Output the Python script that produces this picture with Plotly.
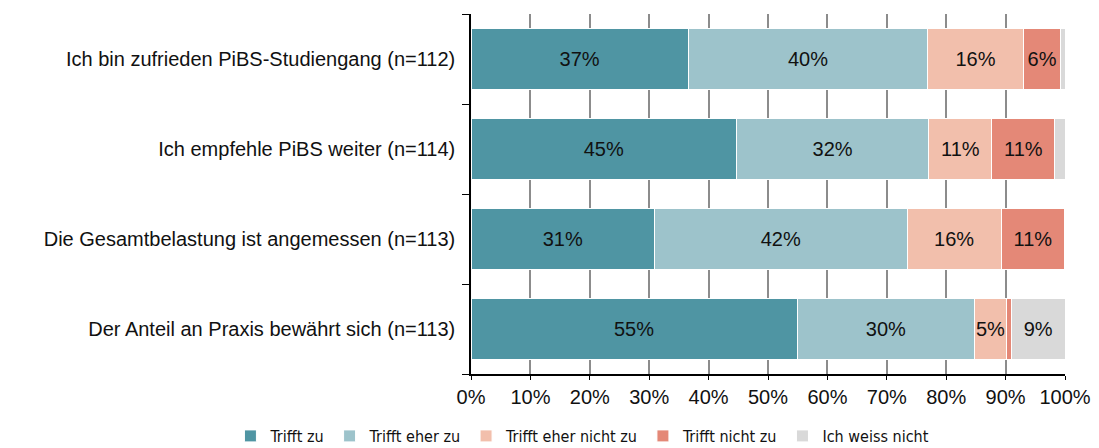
import plotly.graph_objects as go

# Survey statements (top to bottom) and response shares in percent
statements = [
    "Ich bin zufrieden PiBS-Studiengang (n=112)",
    "Ich empfehle PiBS weiter (n=114)",
    "Die Gesamtbelastung ist angemessen (n=113)",
    "Der Anteil an Praxis bewährt sich (n=113)",
]
trifft_zu = [36.6, 44.7, 30.9, 54.9]
trifft_eher_zu = [40.3, 32.4, 42.5, 29.9]
trifft_eher_nicht_zu = [16.1, 10.6, 15.9, 5.3]
trifft_nicht_zu = [6.3, 10.6, 10.6, 0.9]
weiss_nicht = [0.7, 1.7, 0.0, 9.0]

series = [
    ("Trifft zu", trifft_zu, "#4F95A3"),
    ("Trifft eher zu", trifft_eher_zu, "#9DC3CB"),
    ("Trifft eher nicht zu", trifft_eher_nicht_zu, "#F2BFAC"),
    ("Trifft nicht zu", trifft_nicht_zu, "#E48877"),
    ("Ich weiss nicht", weiss_nicht, "#D9D9D9"),
]

x_ticks = [0, 10, 20, 30, 40, 50, 60, 70, 80, 90, 100]
x_tick_labels = [f"{t}%" for t in x_ticks]

font_main = "Liberation Sans, Arial, sans-serif"

fig = go.Figure()
for name, values, color in series:
    labels = [f"{round(v)}%" if v >= 3 else "" for v in values]
    fig.add_trace(go.Bar(
        y=statements,
        x=values,
        name=name,
        orientation="h",
        marker=dict(color=color, line=dict(color="white", width=1)),
        text=labels,
        textposition="inside",
        insidetextanchor="middle",
        textangle=0,
        textfont=dict(color="#111111", size=20, family=font_main),
        hoverinfo="x+name",
        width=0.67,
    ))

fig.update_layout(
    barmode="stack",
    width=1099,
    height=448,
    margin=dict(l=471, r=34, t=14, b=74, autoexpand=False),
    plot_bgcolor="white",
    paper_bgcolor="white",
    font=dict(family=font_main, size=20, color="#111111"),
    uniformtext=dict(minsize=20, mode="show"),
    legend=dict(
        orientation="h",
        traceorder="normal",
        x=-0.405,
        xanchor="left",
        xref="paper",
        y=-0.125,
        yanchor="top",
        font=dict(family="DejaVu Sans Condensed, Liberation Sans Narrow, Liberation Sans, sans-serif",
                  size=16, color="#111111"),
        itemwidth=30,
    ),
)

fig.update_xaxes(
    range=[0, 100],
    tickvals=x_ticks,
    ticktext=x_tick_labels,
    showgrid=True,
    gridcolor="#8C8C8C",
    gridwidth=1.5,
    showline=True,
    linecolor="#000000",
    linewidth=1.5,
    ticks="outside",
    ticklen=4,
    tickcolor="#000000",
    tickfont=dict(size=20),
    zeroline=False,
    fixedrange=True,
)

fig.update_yaxes(
    categoryorder="array",
    categoryarray=statements[::-1],
    autorange=False,
    range=[-0.5, 3.5],
    showline=True,
    linecolor="#000000",
    linewidth=1.5,
    ticks="outside",
    tickson="boundaries",
    ticklen=7,
    tickcolor="#000000",
    tickfont=dict(size=20),
    ticklabelstandoff=10,
    showgrid=False,
    fixedrange=True,
)

fig.write_html("out.html")
